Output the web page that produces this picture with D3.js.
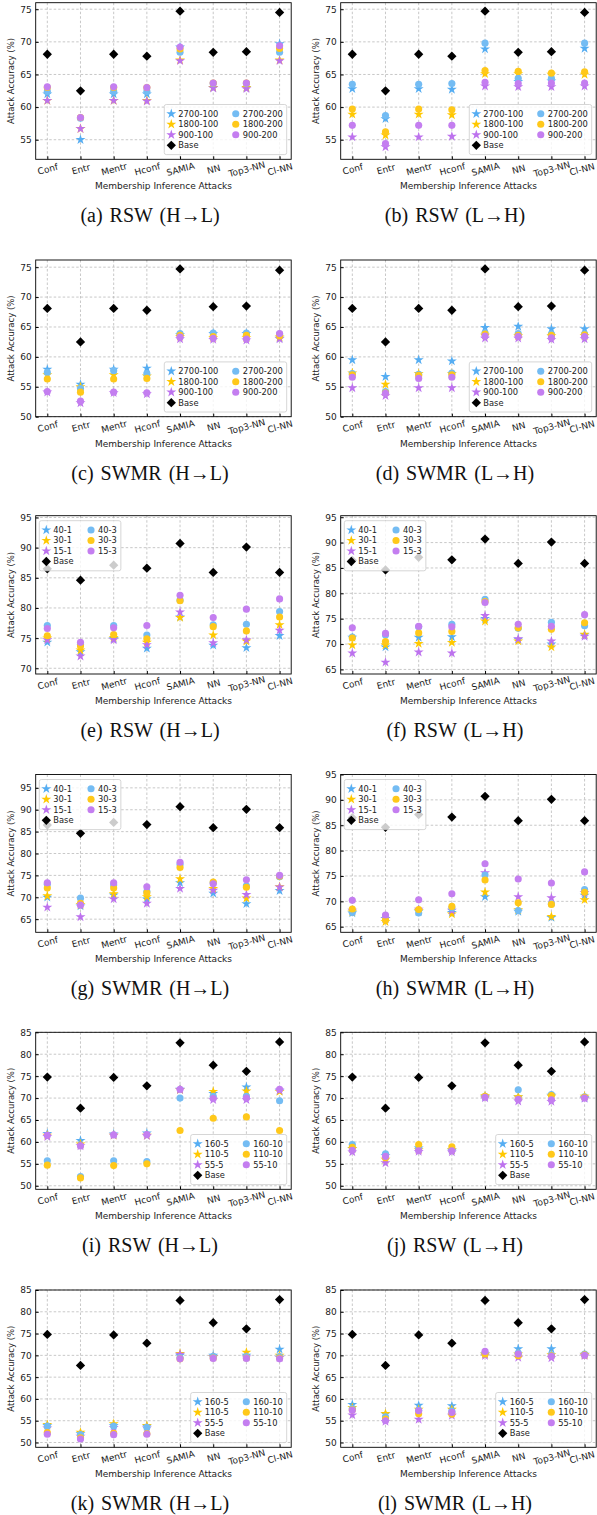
<!DOCTYPE html>
<html lang="en">
<head>
<meta charset="UTF-8">
<title>Attack accuracy</title>
<script src="https://cdn.jsdelivr.net/npm/d3@7"></script>
<style>
    body { margin: 0; background: #fff; }
    svg text { font-family: "DejaVu Sans", sans-serif; fill: #222; }
    .grid line { stroke: #b0b0b0; stroke-width: 0.7; stroke-dasharray: 2.5,2; }
    .caption { font-family: "Liberation Serif", "Times New Roman", serif; font-size: 20px; fill: #111; word-spacing: 2px; }
</style>
</head>
<body>
<script>

// Categories (x axis)
var attacks = ["Conf", "Entr", "Mentr", "Hconf", "SAMIA", "NN", "Top3-NN", "Cl-NN"];

// Baselines
var baseAD = [68.1, 62.5, 68.1, 67.8, 74.7, 68.4, 68.5, 74.5];
var baseEH = [86.5, 84.6, 87.1, 86.6, 90.7, 85.9, 90.1, 85.9];
var baseIL = [74.8, 67.7, 74.7, 72.8, 82.6, 77.5, 76.1, 82.8];

// Legend labels (stars then circles)
var labelsAD = ["2700-100", "1800-100", "900-100", "2700-200", "1800-200", "900-200"];
var labelsEH = ["40-1", "30-1", "15-1", "40-3", "30-3", "15-3"];
var labelsIL = ["160-5", "110-5", "55-5", "160-10", "110-10", "55-10"];

// Tick values
var ticksAB = [55, 60, 65, 70, 75];
var ticksCD = [50, 55, 60, 65, 70, 75];
var ticksE = [70, 75, 80, 85, 90, 95];
var ticksFH = [65, 70, 75, 80, 85, 90, 95];
var ticksIL = [50, 55, 60, 65, 70, 75, 80, 85];

// (a) RSW (H->L)
var dataA = [
    [62.0, 55.0, 62.0, 62.0, 69.2, 63.0, 63.0, 69.7],
    [61.0, 56.7, 61.0, 61.0, 67.2, 63.0, 63.0, 67.2],
    [61.0, 56.7, 61.0, 60.9, 67.1, 62.9, 62.8, 67.1],
    [62.4, 58.3, 62.4, 62.4, 68.4, 63.6, 63.6, 68.4],
    [63.0, 58.4, 63.0, 63.0, 68.9, 63.7, 63.7, 69.0],
    [63.1, 58.4, 63.1, 63.0, 69.2, 63.7, 63.7, 69.4]
];
// (b) RSW (L->H)
var dataB = [
    [62.8, 58.2, 62.8, 62.7, 68.9, 63.9, 64.0, 69.0],
    [58.9, 55.7, 58.9, 58.8, 65.1, 65.1, 65.0, 65.0],
    [55.4, 53.9, 55.4, 55.5, 63.2, 63.1, 63.1, 63.2],
    [63.5, 58.7, 63.5, 63.6, 69.8, 64.4, 64.4, 69.8],
    [59.7, 56.2, 59.7, 59.6, 65.6, 65.5, 65.2, 65.4],
    [57.2, 54.4, 57.2, 57.2, 63.8, 63.6, 63.7, 63.7]
];
// (c) SWMR (H->L)
var dataC = [
    [57.9, 55.4, 57.9, 58.1, 63.7, 63.9, 63.9, 63.1],
    [57.0, 55.0, 57.0, 56.8, 63.4, 63.2, 63.2, 63.3],
    [54.1, 52.3, 54.0, 53.8, 63.0, 62.9, 62.8, 63.0],
    [57.4, 54.7, 57.7, 57.2, 63.9, 64.0, 64.0, 63.8],
    [56.3, 54.1, 56.3, 56.4, 63.6, 63.4, 63.6, 63.5],
    [54.2, 52.6, 54.1, 54.0, 63.3, 63.1, 63.0, 63.9]
];
// (d) SWMR (L->H)
var dataD = [
    [59.5, 56.7, 59.5, 59.3, 64.9, 65.1, 64.7, 64.7],
    [57.3, 55.4, 57.2, 57.2, 63.6, 63.5, 63.5, 63.5],
    [54.8, 53.5, 54.8, 54.8, 63.1, 63.1, 62.9, 63.0],
    [57.2, 54.2, 57.1, 57.3, 64.0, 63.9, 63.8, 63.8],
    [57.0, 54.0, 56.9, 57.0, 63.8, 63.6, 63.6, 63.7],
    [56.6, 53.9, 56.4, 56.6, 63.5, 63.4, 63.2, 63.4]
];
// (e) RSW (H->L)
var dataE = [
    [74.3, 72.7, 74.9, 73.3, 78.5, 73.8, 73.4, 75.4],
    [75.0, 73.0, 75.1, 74.3, 78.4, 75.5, 74.5, 77.2],
    [74.7, 72.0, 74.7, 73.9, 79.3, 74.2, 74.7, 76.3],
    [77.1, 74.0, 77.1, 75.5, 81.3, 77.2, 77.3, 79.4],
    [75.4, 73.7, 75.6, 74.9, 81.2, 76.9, 76.2, 78.5],
    [76.6, 74.3, 76.7, 77.1, 82.1, 78.4, 79.8, 81.5]
];
// (f) RSW (L->H)
var dataF = [
    [71.3, 69.4, 71.3, 71.4, 75.0, 70.9, 70.0, 71.8],
    [69.8, 69.8, 70.1, 70.3, 74.5, 70.6, 69.4, 71.9],
    [68.2, 66.4, 68.4, 68.2, 75.6, 71.0, 70.6, 71.5],
    [71.4, 71.8, 73.4, 73.9, 78.8, 73.1, 74.3, 73.6],
    [71.2, 70.5, 72.2, 72.5, 78.4, 73.2, 72.9, 74.2],
    [73.2, 72.1, 73.5, 73.4, 78.2, 73.9, 73.5, 75.8]
];
// (g) SWMR (H->L)
var dataG = [
    [70.0, 68.0, 70.5, 69.6, 73.3, 70.9, 68.5, 71.5],
    [70.3, 68.3, 70.8, 70.1, 74.2, 72.0, 69.8, 72.4],
    [67.7, 65.5, 69.6, 68.6, 72.0, 71.6, 70.6, 72.3],
    [73.0, 69.8, 72.8, 71.3, 77.5, 73.3, 72.6, 74.7],
    [72.1, 68.6, 72.1, 71.0, 76.8, 73.5, 72.3, 74.8],
    [73.3, 68.2, 73.3, 72.4, 78.0, 73.1, 74.0, 75.0]
];
// (h) SWMR (L->H)
var dataH = [
    [67.7, 66.6, 68.0, 67.8, 70.9, 68.0, 66.8, 71.2],
    [67.9, 66.0, 68.1, 67.5, 71.8, 68.3, 67.0, 70.3],
    [68.2, 66.6, 68.4, 68.2, 75.6, 70.9, 70.7, 71.7],
    [67.8, 66.8, 67.7, 68.7, 75.2, 68.2, 69.5, 72.3],
    [68.5, 66.3, 68.4, 69.0, 74.2, 69.7, 69.4, 71.8],
    [70.2, 67.3, 70.3, 71.5, 77.4, 74.4, 73.6, 75.8]
];
// (i) RSW (H->L)
var dataI = [
    [61.9, 60.3, 61.8, 62.0, 72.0, 71.0, 72.5, 71.6],
    [61.5, 59.5, 61.5, 61.5, 71.9, 71.5, 71.6, 71.5],
    [61.2, 59.1, 61.5, 61.4, 71.9, 69.6, 69.6, 71.8],
    [55.7, 52.1, 55.7, 55.5, 70.0, 70.4, 70.4, 69.4],
    [54.7, 51.8, 54.6, 55.0, 62.6, 65.4, 65.7, 62.6],
    [61.5, 59.1, 61.6, 61.7, 72.0, 69.9, 70.0, 72.0]
];
// (j) RSW (L->H)
var dataJ = [
    [58.5, 56.8, 58.6, 58.1, 70.3, 70.2, 70.6, 70.1],
    [58.4, 56.0, 58.2, 58.2, 70.5, 70.3, 70.4, 70.4],
    [57.7, 55.2, 57.8, 57.7, 70.0, 69.3, 69.2, 69.9],
    [59.4, 57.3, 58.6, 58.2, 70.4, 71.9, 70.8, 70.3],
    [58.8, 56.4, 59.4, 58.9, 70.4, 70.0, 70.6, 70.2],
    [58.1, 56.7, 58.0, 58.0, 70.2, 69.7, 69.6, 70.0]
];
// (k) SWMR (H->L)
var dataK = [
    [53.9, 52.0, 53.9, 53.7, 70.0, 70.0, 70.0, 71.4],
    [54.1, 52.3, 54.3, 53.9, 70.4, 69.7, 70.7, 70.0],
    [53.3, 51.4, 53.4, 53.3, 70.2, 69.6, 69.6, 69.5],
    [53.8, 51.8, 53.8, 53.5, 69.5, 69.8, 69.7, 69.7],
    [52.3, 51.1, 52.1, 52.0, 69.2, 69.4, 69.4, 69.4],
    [51.9, 50.8, 51.8, 51.9, 69.2, 69.3, 69.3, 69.2]
];
// (l) SWMR (L->H)
var dataL = [
    [58.7, 56.5, 58.5, 58.4, 70.3, 71.5, 71.5, 70.2],
    [58.0, 56.6, 57.6, 57.6, 70.2, 70.3, 70.1, 70.1],
    [56.3, 54.8, 55.3, 56.2, 69.9, 69.5, 69.4, 69.9],
    [57.8, 55.9, 57.4, 57.2, 70.5, 70.5, 70.1, 70.3],
    [57.5, 55.4, 56.6, 56.5, 70.3, 69.9, 69.9, 70.1],
    [57.4, 55.0, 57.3, 56.9, 70.9, 70.3, 69.8, 70.0]
];

// Colours: blue, yellow, purple (stars then circles)
var starColors = ["#55adf2", "#ffc800", "#bd72ee"];
var dotColors = ["#74bcf3", "#ffc81a", "#c47ef0"];

// Panel layout
var rowTop = [2.7, 260, 515.7, 774.5, 1032.3, 1290];
var rowBot = [159.3, 416.7, 674, 932.3, 1189.3, 1447.3];
var colLeft = [35.7, 340.7];
var plotW = 255.5;
var capX = [150, 455];

var panels = [
    {cap: "(a) RSW (H\u2192L)", data: dataA, base: baseAD, labels: labelsAD, dom: [52, 76], ticks: ticksAB, leg: "br", row: 0, col: 0},
    {cap: "(b) RSW (L\u2192H)", data: dataB, base: baseAD, labels: labelsAD, dom: [52, 76], ticks: ticksAB, leg: "br", row: 0, col: 1},
    {cap: "(c) SWMR (H\u2192L)", data: dataC, base: baseAD, labels: labelsAD, dom: [50, 76.2], ticks: ticksCD, leg: "br", row: 1, col: 0},
    {cap: "(d) SWMR (L\u2192H)", data: dataD, base: baseAD, labels: labelsAD, dom: [50, 76.2], ticks: ticksCD, leg: "br", row: 1, col: 1},
    {cap: "(e) RSW (H\u2192L)", data: dataE, base: baseEH, labels: labelsEH, dom: [69.05, 95.3], ticks: ticksE, leg: "tl", row: 2, col: 0},
    {cap: "(f) RSW (L\u2192H)", data: dataF, base: baseEH, labels: labelsEH, dom: [64.1, 95.3], ticks: ticksFH, leg: "tl", row: 2, col: 1},
    {cap: "(g) SWMR (H\u2192L)", data: dataG, base: baseEH, labels: labelsEH, dom: [62, 98.05], ticks: ticksFH, leg: "tl", row: 3, col: 0},
    {cap: "(h) SWMR (L\u2192H)", data: dataH, base: baseEH, labels: labelsEH, dom: [63.9, 95], ticks: ticksFH, leg: "tl", row: 3, col: 1},
    {cap: "(i) RSW (H\u2192L)", data: dataI, base: baseIL, labels: labelsIL, dom: [49.2, 85], ticks: ticksIL, leg: "br", row: 4, col: 0},
    {cap: "(j) RSW (L\u2192H)", data: dataJ, base: baseIL, labels: labelsIL, dom: [49.2, 85], ticks: ticksIL, leg: "br", row: 4, col: 1},
    {cap: "(k) SWMR (H\u2192L)", data: dataK, base: baseIL, labels: labelsIL, dom: [48.9, 85], ticks: ticksIL, leg: "br", row: 5, col: 0},
    {cap: "(l) SWMR (L\u2192H)", data: dataL, base: baseIL, labels: labelsIL, dom: [48.9, 85], ticks: ticksIL, leg: "br", row: 5, col: 1}
];

// Marker shapes
var starPath = d3.symbol().type(d3.symbolStar).size(31)();
var dotPath = d3.symbol().type(d3.symbolCircle).size(40)();
var diamondPath = d3.symbol().type(d3.symbolSquare).size(43)();

function addMarker(sel, kind, color) {
    if (kind === "star") {
        return sel.append("path").attr("d", starPath).attr("fill", color);
    } else if (kind === "dot") {
        return sel.append("path").attr("d", dotPath).attr("fill", color);
    }
    return sel.append("path").attr("d", diamondPath).attr("fill", "#000")
        .attr("transform", "rotate(45)");
}

var svg = d3.select("body").append("svg")
    .attr("width", 597)
    .attr("height", 1515);

panels.forEach(function(p) {
    var x0 = colLeft[p.col], y0 = rowTop[p.row];
    var h = rowBot[p.row] - y0;

    var g = svg.append("g").attr("transform", "translate(" + x0 + "," + y0 + ")");

    var x = d3.scalePoint().domain(attacks).range([0, plotW]).padding(0.35);
    var y = d3.scaleLinear().domain(p.dom).range([h, 0]);

    // grid
    g.append("g").attr("class", "grid")
        .selectAll("line.gy").data(p.ticks).enter().append("line")
        .attr("x1", 0).attr("x2", plotW)
        .attr("y1", function(d) { return y(d); })
        .attr("y2", function(d) { return y(d); });
    g.append("g").attr("class", "grid")
        .selectAll("line.gx").data(attacks).enter().append("line")
        .attr("y1", 0).attr("y2", h)
        .attr("x1", function(d) { return x(d); })
        .attr("x2", function(d) { return x(d); });

    // axes (ticks pointing inward)
    var yAxis = g.append("g")
        .call(d3.axisLeft(y).tickValues(p.ticks).tickSize(-3).tickPadding(4));
    yAxis.select(".domain").remove();
    yAxis.selectAll("text").attr("font-size", 9).attr("fill", "#222")
        .attr("font-family", "DejaVu Sans");

    var xAxis = g.append("g")
        .attr("transform", "translate(0," + h + ")")
        .call(d3.axisBottom(x).tickSize(-3));
    xAxis.select(".domain").remove();
    xAxis.selectAll("text")
        .attr("font-size", 9).attr("fill", "#222")
        .attr("font-family", "DejaVu Sans")
        .attr("y", 0).attr("dy", null)
        .attr("dominant-baseline", "central")
        .attr("text-anchor", "middle")
        .attr("transform", function(d) {
            // keep the last label inside the page on the right column
            var dx = (p.col === 1 && d === "Cl-NN") ? -3 : 0;
            return "translate(" + dx + ",10) rotate(-15)";
        });

    // frame
    g.append("rect").attr("width", plotW).attr("height", h)
        .attr("fill", "none").attr("stroke", "#000").attr("stroke-width", 0.9);

    // series: stars first, then circles
    p.data.forEach(function(vals, i) {
        var kind = i < 3 ? "star" : "dot";
        var color = i < 3 ? starColors[i] : dotColors[i - 3];
        vals.forEach(function(v, j) {
            var m = g.append("g")
                .attr("transform", "translate(" + x(attacks[j]) + "," + y(v) + ")");
            addMarker(m, kind, color);
        });
    });

    // base
    p.base.forEach(function(v, j) {
        var m = g.append("g")
            .attr("transform", "translate(" + x(attacks[j]) + "," + y(v) + ")");
        addMarker(m, "diamond");
    });

    // axis titles
    g.append("text")
        .attr("x", plotW / 2).attr("y", h + 30)
        .attr("text-anchor", "middle").attr("font-size", 9)
        .text("Membership Inference Attacks");
    g.append("text")
        .attr("transform", "translate(-22," + (h / 2) + ") rotate(-90)")
        .attr("text-anchor", "middle").attr("font-size", 8.5)
        .text("Attack Accuracy (%)");

    // legend
    var leg = g.append("g");
    var box = leg.append("rect")
        .attr("fill", "#fff").attr("fill-opacity", 0.8)
        .attr("stroke", "#ccc").attr("stroke-width", 0.8)
        .attr("rx", 2);
    var rowH = 10.5, top = 9.3;
    var col1 = [
        {kind: "star", color: starColors[0], label: p.labels[0]},
        {kind: "star", color: starColors[1], label: p.labels[1]},
        {kind: "star", color: starColors[2], label: p.labels[2]},
        {kind: "diamond", label: "Base"}
    ];
    var col2 = [
        {kind: "dot", color: dotColors[0], label: p.labels[3]},
        {kind: "dot", color: dotColors[1], label: p.labels[4]},
        {kind: "dot", color: dotColors[2], label: p.labels[5]}
    ];
    var w1 = 0, w2 = 0;
    function entry(e, k, cx) {
        var eg = leg.append("g").attr("transform", "translate(" + cx + "," + (top + k * rowH) + ")");
        var mg = eg.append("g").attr("transform", "translate(7,0)");
        addMarker(mg, e.kind, e.color);
        var t = eg.append("text").attr("x", 14).attr("dy", "0.35em")
            .attr("font-size", 8.3).text(e.label);
        return t.node().getComputedTextLength();
    }
    col1.forEach(function(e, k) { w1 = Math.max(w1, entry(e, k, 0)); });
    var c2x = 14 + w1 + 10.5;
    col2.forEach(function(e, k) { w2 = Math.max(w2, entry(e, k, c2x)); });
    var lw = c2x + 14 + w2 + 4, lh = top * 2 + rowH * 3;
    box.attr("width", lw).attr("height", lh);
    if (p.leg === "br") {
        leg.attr("transform", "translate(" + (plotW - 4.5 - lw) + "," + (h - 4.7 - lh) + ")");
    } else {
        leg.attr("transform", "translate(3.6,5)");
    }

    // caption
    svg.append("text").attr("class", "caption")
        .attr("x", capX[p.col]).attr("y", rowBot[p.row] + 63)
        .attr("text-anchor", "middle")
        .text(p.cap);
});

</script>
</body>
</html>
